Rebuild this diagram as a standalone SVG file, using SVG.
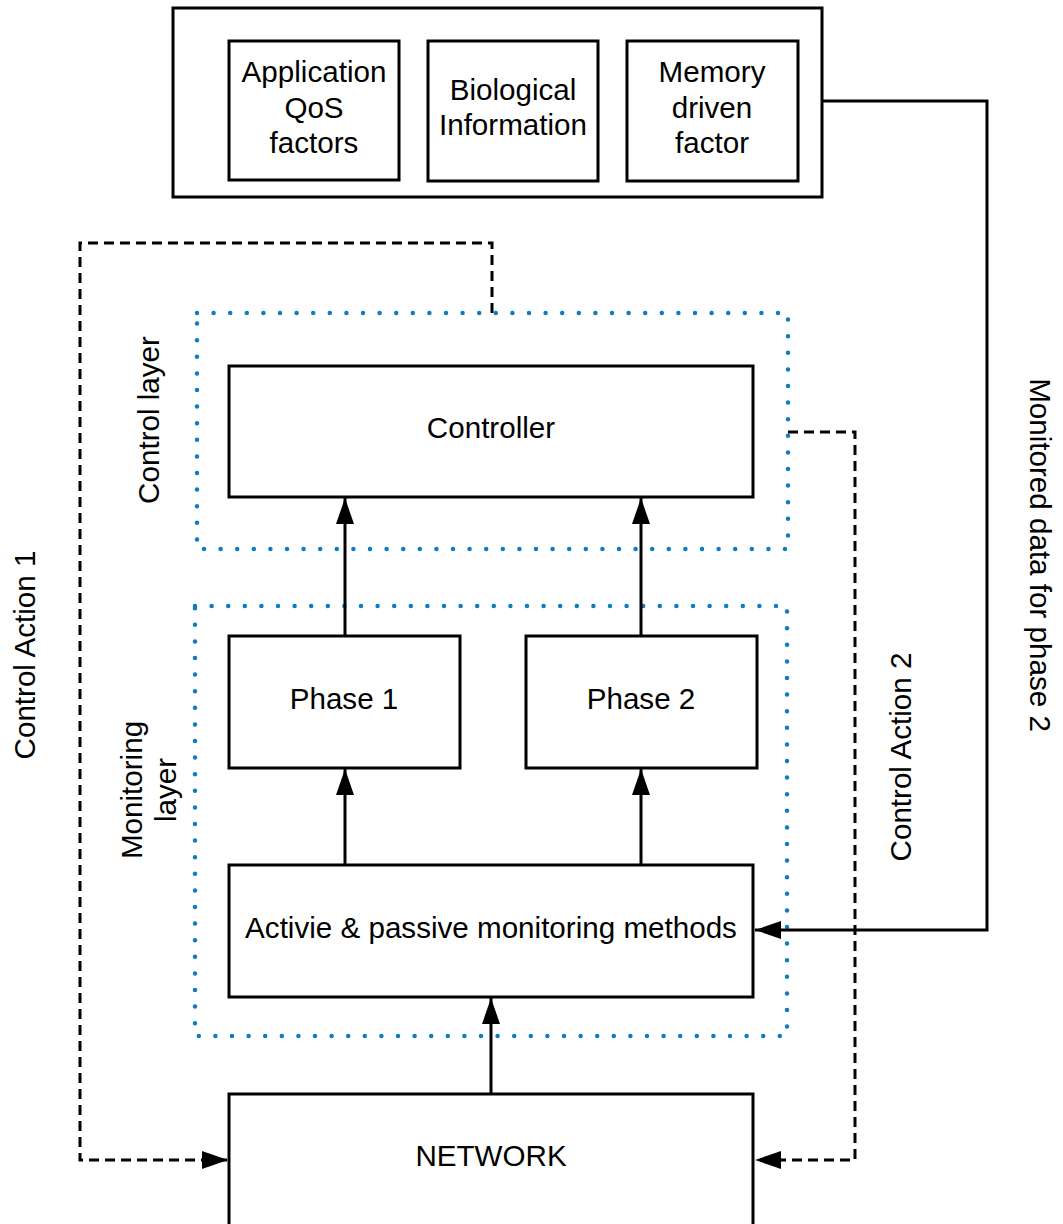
<svg xmlns="http://www.w3.org/2000/svg" width="1063" height="1224" viewBox="0 0 1063 1224">
<defs>
<marker id="ah" markerWidth="26" markerHeight="18" refX="26" refY="9" orient="auto" markerUnits="userSpaceOnUse"><path d="M0,0 L26,9 L0,18 Z" fill="#000"/></marker>
</defs>
<style>
.box{fill:#fff;stroke:#000;stroke-width:3}
.dot{fill:none;stroke:#0f7cc0;stroke-width:4.5;stroke-linecap:round;stroke-dasharray:0 16.6}
.t{font-family:"Liberation Sans",Arial,sans-serif;font-size:29.6px;fill:#000;text-anchor:middle}
.ln{fill:none;stroke:#000;stroke-width:3}
.dash{fill:none;stroke:#000;stroke-width:3;stroke-dasharray:10 6}
</style>
<rect width="1063" height="1224" fill="#fff"/>
<g id="layers">
<rect class="dot" x="197" y="313" width="591" height="236"/>
<rect class="dot" x="195" y="606" width="592" height="430"/>
<text class="t" transform="translate(159,420) rotate(-90)">Control layer</text>
<text class="t" transform="translate(142,790) rotate(-90)">Monitoring</text>
<text class="t" transform="translate(176,790) rotate(-90)">layer</text>
</g>
<g id="top">
<rect class="box" x="173" y="8" width="649" height="189"/>
</g>
<g id="appqos"><rect class="box" x="229" y="41" width="170" height="139"/><text class="t" x="314" y="82">Application</text><text class="t" x="314" y="118">QoS</text><text class="t" x="314" y="153">factors</text></g>
<g id="bio"><rect class="box" x="428" y="41" width="170" height="140"/><text class="t" x="513" y="100">Biological</text><text class="t" x="513" y="135">Information</text></g>
<g id="memory"><rect class="box" x="627" y="41" width="171" height="140"/><text class="t" x="712" y="82">Memory</text><text class="t" x="712" y="118">driven</text><text class="t" x="712" y="153">factor</text></g>
<g id="controller"><rect class="box" x="229" y="366" width="524" height="131"/><text class="t" x="491" y="438">Controller</text></g>
<g id="phase1"><rect class="box" x="229" y="636" width="231" height="132"/><text class="t" x="344" y="709">Phase 1</text></g>
<g id="phase2"><rect class="box" x="526" y="636" width="231" height="132"/><text class="t" x="641" y="709">Phase 2</text></g>
<g id="monitor"><rect class="box" x="229" y="865" width="524" height="132"/><text class="t" x="491" y="938">Activie &amp; passive monitoring methods</text></g>
<g id="network"><rect class="box" x="229" y="1094" width="524" height="150"/><text class="t" x="491" y="1166">NETWORK</text></g>
<g id="connectors">
<path class="ln" d="M345,636 V498" marker-end="url(#ah)"/>
<path class="ln" d="M641,636 V498" marker-end="url(#ah)"/>
<path class="ln" d="M345,865 V769" marker-end="url(#ah)"/>
<path class="ln" d="M641,865 V769" marker-end="url(#ah)"/>
<path class="ln" d="M491,1094 V998" marker-end="url(#ah)"/>
<path class="ln" d="M822,101 H987 V930 H755" marker-end="url(#ah)"/>
<path class="dash" d="M492,313 V243 H80 V1160 H228" marker-end="url(#ah)"/>
<path class="dash" d="M788,432 H855 V1160 H755" marker-end="url(#ah)"/>
<text class="t" transform="translate(35,655) rotate(-90)">Control Action 1</text>
<text class="t" transform="translate(911,757) rotate(-90)">Control Action 2</text>
<text class="t" transform="translate(1030,555) rotate(90)">Monitored data for phase 2</text>
</g>
</svg>
